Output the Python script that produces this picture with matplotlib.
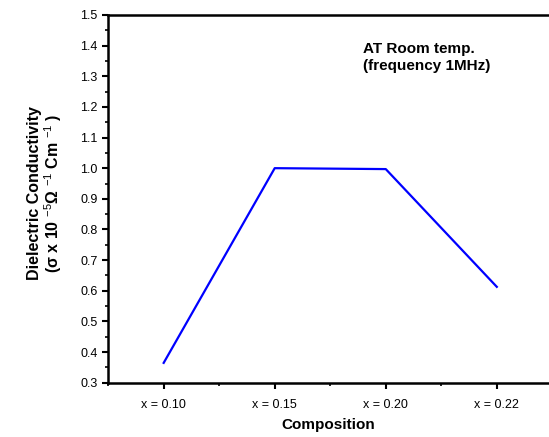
import matplotlib
matplotlib.use("Agg")
import matplotlib.pyplot as plt
from matplotlib.ticker import MultipleLocator, FixedLocator

plt.rcParams["font.family"] = ["Liberation Sans", "DejaVu Sans"]
plt.rcParams["mathtext.fontset"] = "custom"
plt.rcParams["mathtext.rm"] = "Liberation Sans"
plt.rcParams["mathtext.bf"] = "Liberation Sans:bold"

# data
compositions = ["x = 0.10", "x = 0.15", "x = 0.20", "x = 0.22"]
conductivity = [0.365, 1.0, 0.997, 0.613]

fig = plt.figure(figsize=(5.49, 4.37), dpi=100)
ax = fig.add_axes([0.197, 0.124, 0.803, 0.842])

pos = list(range(len(compositions)))
ax.plot(pos, conductivity, color="#0000ff", lw=1.6)

ax.set_xlim(-0.5, 3.47)
ax.set_ylim(0.3, 1.5)
ax.set_xticks(pos)
ax.set_xticklabels(compositions)
ax.xaxis.set_minor_locator(FixedLocator([-0.5, 0.5, 1.5, 2.5]))
ax.yaxis.set_major_locator(MultipleLocator(0.1))
ax.yaxis.set_minor_locator(MultipleLocator(0.05))

for s in ["left", "bottom", "top"]:
    ax.spines[s].set_linewidth(1.8)
ax.spines["right"].set_visible(False)

ax.tick_params(which="major", direction="out", length=4.5, width=1.5, labelsize=9, pad=3)
ax.tick_params(which="minor", direction="out", length=2.5, width=1.2)
ax.tick_params(axis="x", pad=7)

ax.set_xlabel("Composition", fontsize=11, fontweight="bold", labelpad=5)
ax.set_ylabel("Dielectric Conductivity\n"
              r"(σ x 10 $^{-5}$$\mathbf{Ω}$ $^{-1}$ Cm $^{-1}$ )",
              fontsize=11.5, fontweight="bold", linespacing=1.0)
ax.yaxis.set_label_coords(-0.1, 0.515)

ax.text(0.578, 0.925, "AT Room temp.\n(frequency 1MHz)", transform=ax.transAxes,
        fontsize=11, fontweight="bold", va="top", ha="left", linespacing=1.2)

fig.savefig("out.png", dpi=100)
